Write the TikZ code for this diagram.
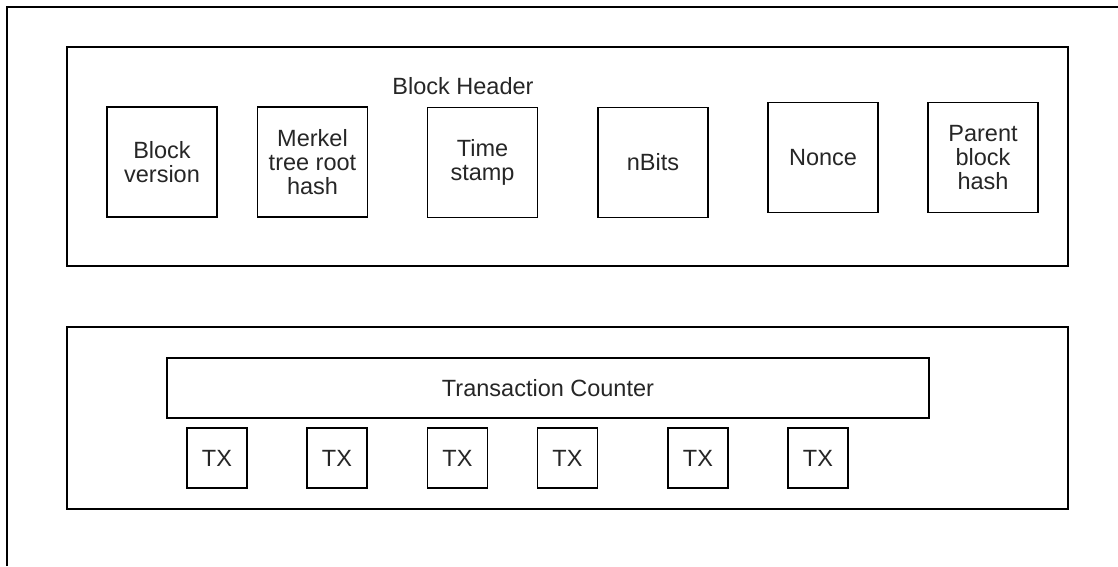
\documentclass[tikz,border=0pt]{standalone}
\usepackage{fontspec}
\setmainfont{Liberation Sans}
\begin{document}
\begin{tikzpicture}[x=1pt,y=-1pt,
  txt/.style={font=\fontsize{23.5}{24}\selectfont, text=black!85},
  field/.style={draw, line width=1.5pt, rectangle, inner sep=0pt, align=center,
    minimum width=110pt, minimum height=110pt, txt},
  txbox/.style={draw, line width=1.5pt, rectangle, inner sep=0pt,
    minimum width=60pt, minimum height=60pt, txt},
  group/.style={draw, line width=1.5pt}
]
\useasboundingbox (0,0) rectangle (1118,566);
% outer frame (only top and left edges visible)
\draw[line width=1.5pt] (7,566) -- (7,7) -- (1118,7);
% groups
\draw[group] (67,47) rectangle (1068,266);
\draw[group] (67,327) rectangle (1068,509);
\node[txt, anchor=center] (bh) at (463,86) {Block Header};
% header fields
\node[field] (ver) at (162,162) {Block\\version};
\node[field] (mrk) at (312.5,162) {Merkel\\tree root\\hash};
\node[field] (ts) at (482.5,162.5) {Time\\stamp};
\node[field] (nb) at (653,162.5) {nBits};
\node[field] (nc) at (823,157.5) {Nonce};
\node[field] (pb) at (983,157.5) {Parent\\block\\hash};
% transactions
\node[draw, line width=1.5pt, rectangle, inner sep=0pt, minimum width=762pt, minimum height=60pt, txt] (tc) at (548,388) {Transaction Counter};
\node[txbox] (tx1) at (217,458) {TX};
\node[txbox] (tx2) at (337,458) {TX};
\node[txbox] (tx3) at (457.5,458) {TX};
\node[txbox] (tx4) at (567.5,458) {TX};
\node[txbox] (tx5) at (698,458) {TX};
\node[txbox] (tx6) at (818,458) {TX};
\end{tikzpicture}
\end{document}
